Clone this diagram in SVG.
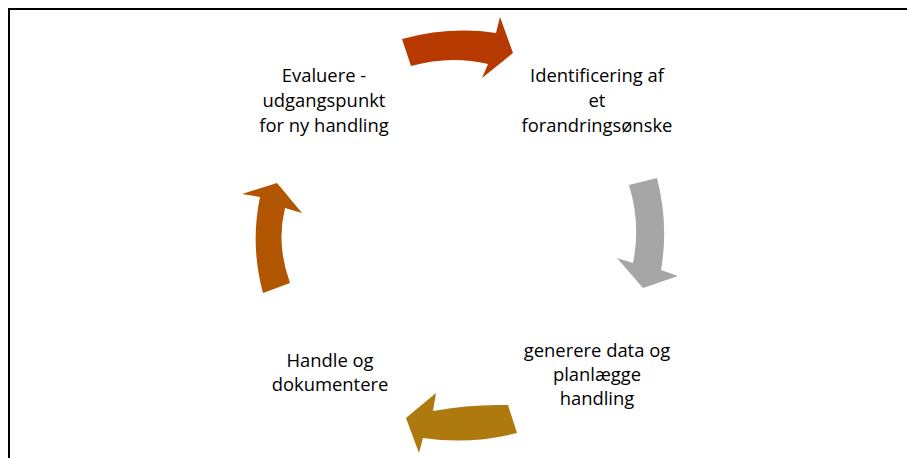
<svg xmlns="http://www.w3.org/2000/svg" width="907" height="458" viewBox="0 0 907 458">
<style>
.t{font-family:"Open Sans","Liberation Sans",sans-serif;font-size:18.4px;fill:#000;text-anchor:middle}
</style>
<rect width="907" height="458" fill="#fff"/>
<rect x="9" y="9" width="920" height="470" fill="none" stroke="#000" stroke-width="2"/>
<g id="connectors">
<path id="arrow-top" d="M402,39 Q450,26 496,33 L500,17 L513,53 L482,78 L488,64 Q450,55 411,66 Z" fill="#B63A00"/>
<path id="arrow-right" d="M629,185 L657,178 Q669,225 661,270 L678,276 L643,288 L617,258 L633,263 Q641,224 629,185 Z" fill="#A6A6A6"/>
<path id="arrow-bottom" d="M508,405 L517,433 Q470,445 423,438 L419,453 L406,418 L436,393 L433,411 Q470,404 508,405 Z" fill="#AE790E"/>
<path id="arrow-left" d="M263,293 Q250,245 260,197 L242,194 L277,183 L302,213 L285,208 Q276,245 290,283 Z" fill="#B15500"/>
</g>
<g id="node-evaluere">
<text class="t" x="324" y="82">Evaluere -</text>
<text class="t" x="324" y="107">udgangspunkt</text>
<text class="t" x="324" y="132">for ny handling</text>
</g>
<g id="node-identificering">
<text class="t" x="597" y="82">Identificering af</text>
<text class="t" x="597" y="107">et</text>
<text class="t" x="597" y="132">forandringsønske</text>
</g>
<g id="node-generere">
<text class="t" x="597" y="357">generere data og</text>
<text class="t" x="597" y="381">planlægge</text>
<text class="t" x="597" y="405">handling</text>
</g>
<g id="node-handle">
<text class="t" x="330" y="367">Handle og</text>
<text class="t" x="330" y="391">dokumentere</text>
</g>
</svg>
